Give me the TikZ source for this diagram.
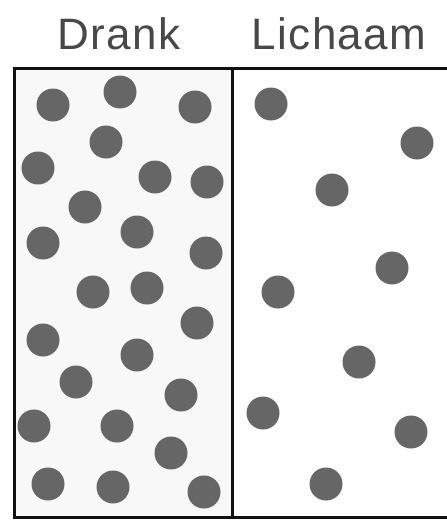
\documentclass[tikz,border=0pt]{standalone}
\usepackage{fontspec}
\setmainfont{Liberation Sans}
\newfontfamily\labelfont[LetterSpace=3]{Liberation Sans}
\definecolor{dotgray}{HTML}{666666}
\definecolor{txtgray}{HTML}{484848}
\definecolor{boxline}{HTML}{101010}
\definecolor{leftbg}{HTML}{F8F8F8}
\begin{document}
\begin{tikzpicture}[x=1pt,y=-1pt,
  particle/.style={circle,fill=dotgray,inner sep=0pt,minimum size=33pt},
  label/.style={anchor=base,text=txtgray,font=\labelfont\fontsize{44}{48}\selectfont,inner sep=0pt},
  wall/.style={draw=boxline,line width=3pt}]
\useasboundingbox (0,0) rectangle (447,522);
\fill[leftbg] (14,68) rectangle (232,517);
\node[label] (drank) at (119,49) {Drank};
\node[label] (lichaam) at (339,49) {Lichaam};
% walls
\coordinate (tl) at (14,68);
\coordinate (bl) at (14,517);
\coordinate (tm) at (232,68);
\coordinate (bm) at (232,517);
\coordinate (tr) at (449,68);
\coordinate (br) at (449,517);
\draw[wall,line join=miter] (tr) -- (tl) -- (bl) -- (br);
\draw[wall] (tm) -- (bm);
% left particles
\foreach \x/\y [count=\i] in {53/105,120/92,195/107,106/142,38/168,155/177,207/182,85/207,137/232,43/243,206/253,93/292,147/288,197/323,43/340,137/355,76/382,181/395,34/426,117/426,171/453,48/484,113/487,204/492}
  \node[particle] (l\i) at (\x,\y) {};
% right particles
\foreach \x/\y [count=\i] in {271/104,417/143,332/190,392/268,278/292,359/362,263/413,411/432,326/484}
  \node[particle] (r\i) at (\x,\y) {};
\end{tikzpicture}
\end{document}
